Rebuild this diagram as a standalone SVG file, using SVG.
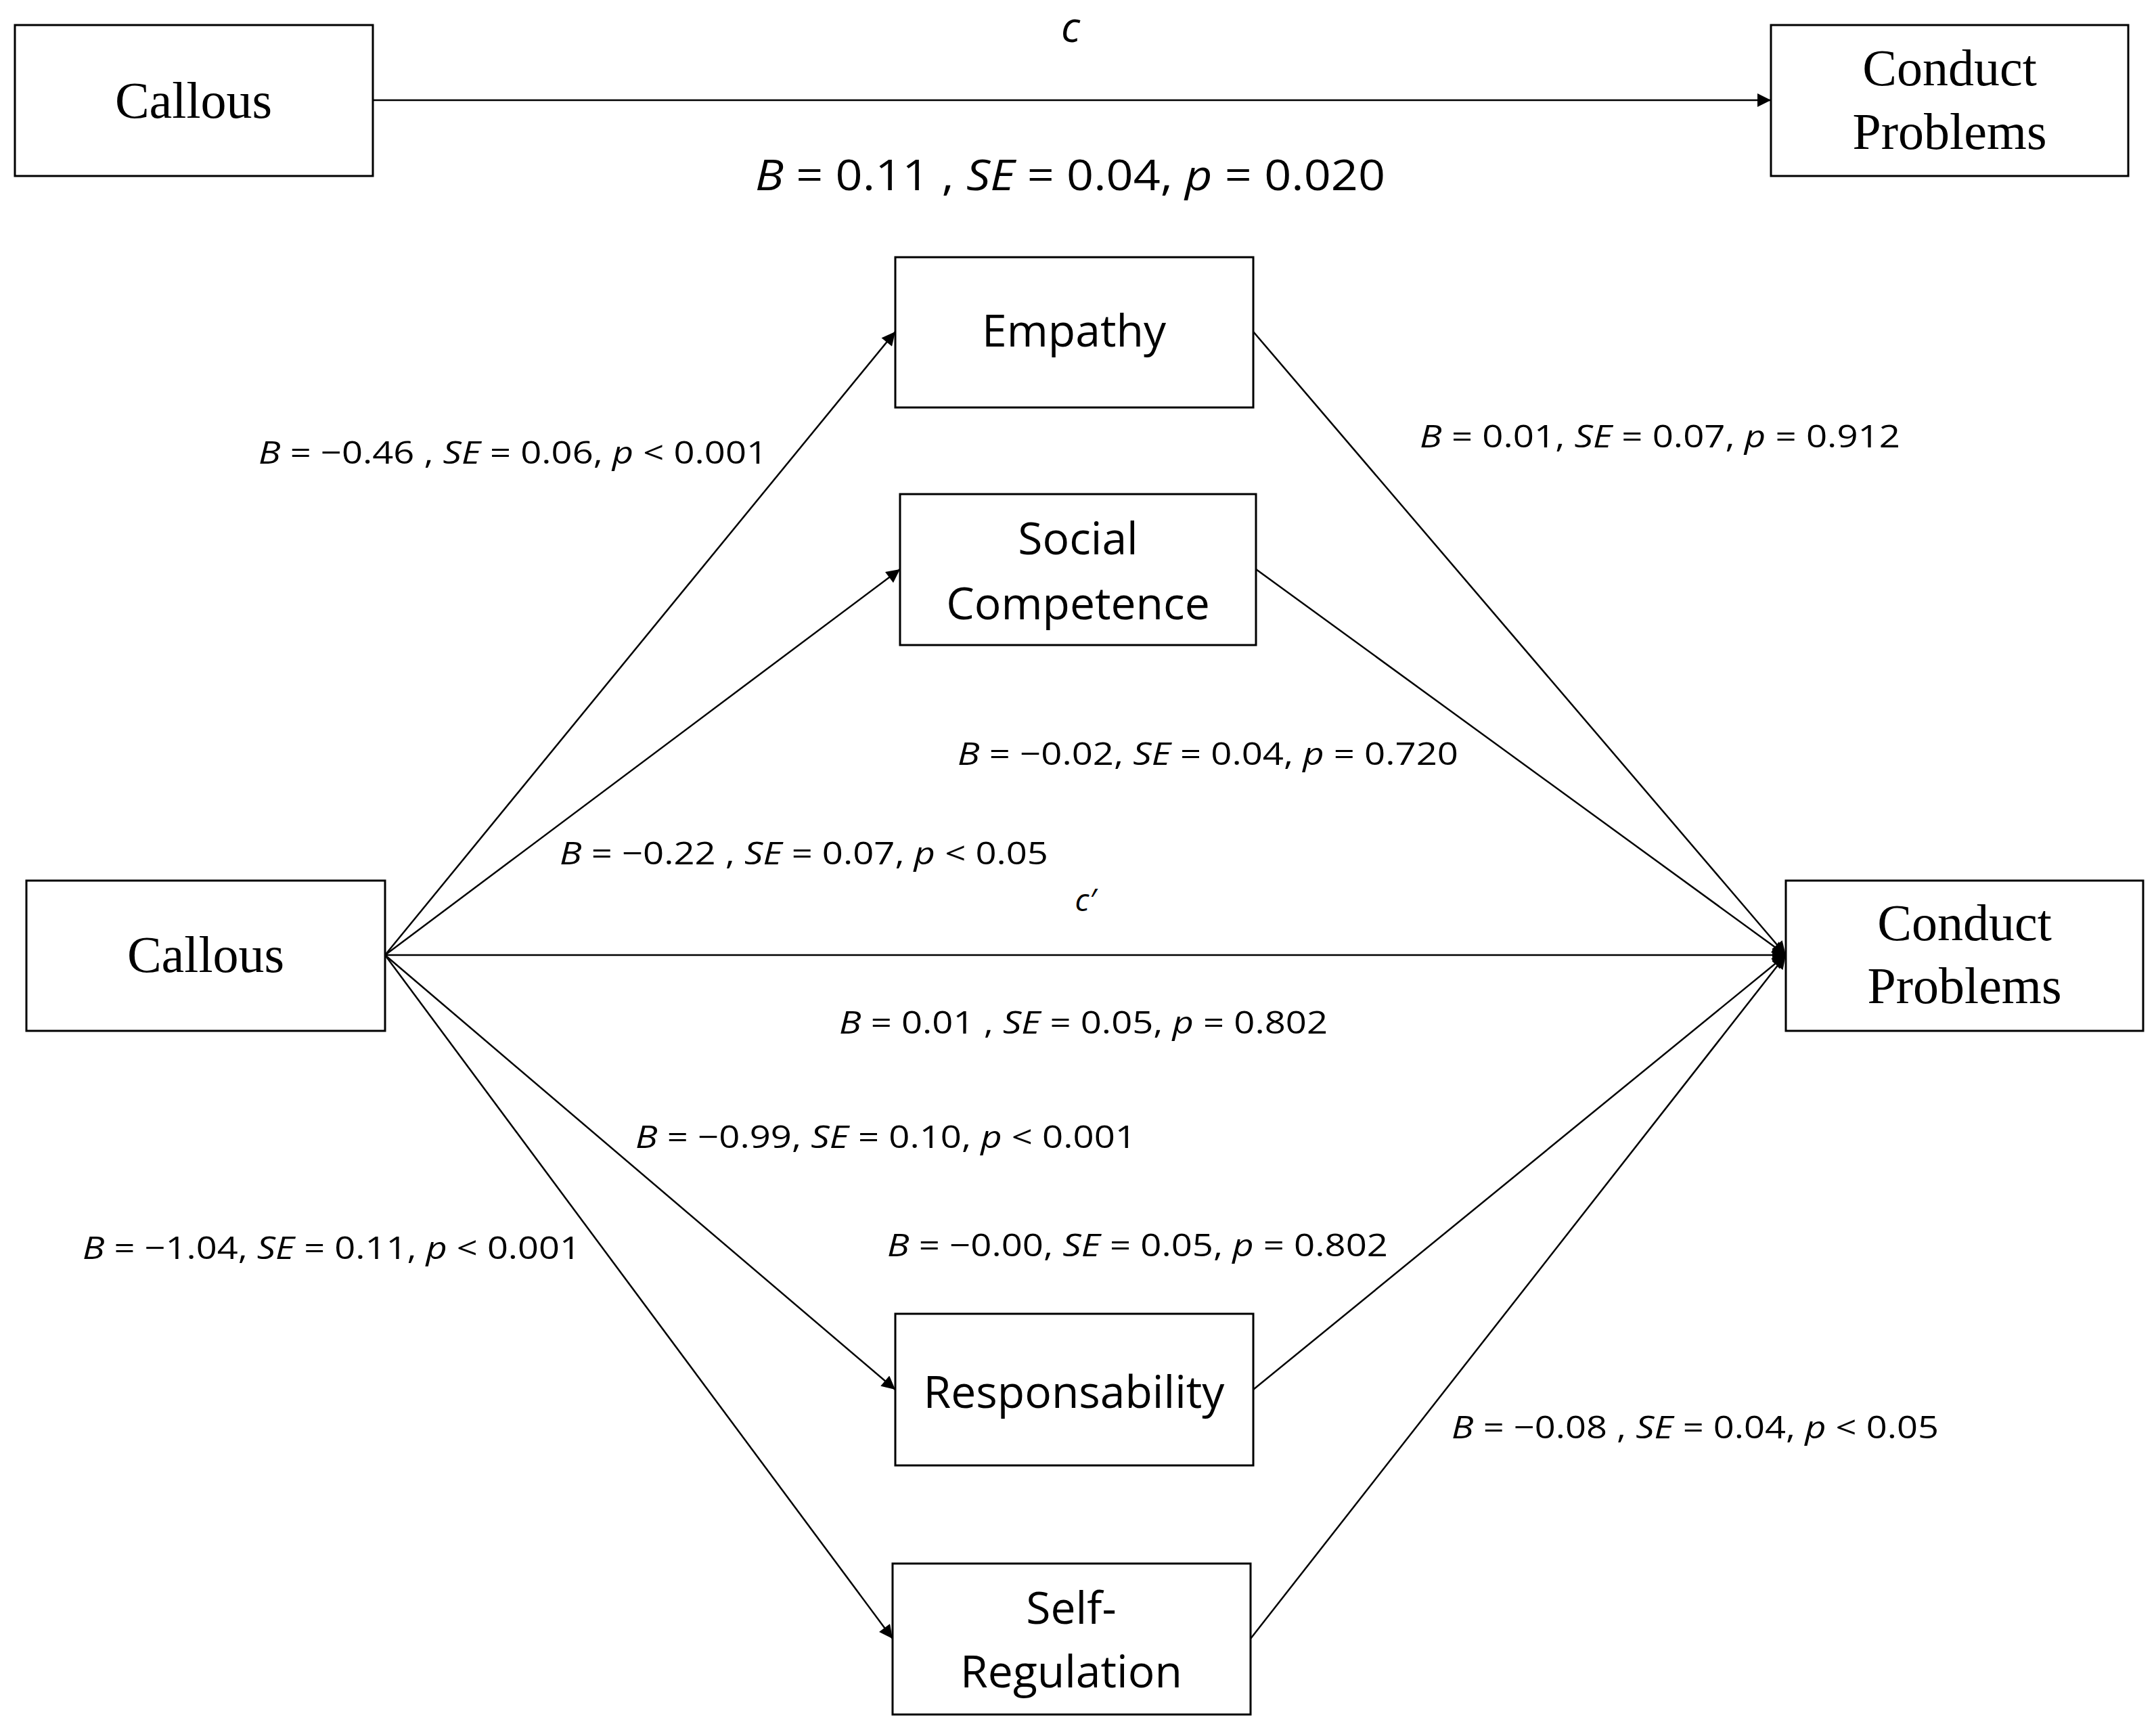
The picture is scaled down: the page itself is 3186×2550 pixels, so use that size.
<svg xmlns="http://www.w3.org/2000/svg" width="3186" height="2550" viewBox="0 0 3186 2550">
<style>
.box{fill:#fff;stroke:#000;stroke-width:3}
.serif{font-family:"Liberation Serif",serif;font-size:76px;text-anchor:middle}
.sans{font-family:"Open Sans","Noto Sans",sans-serif;font-size:66px;text-anchor:middle}
.st{font-family:"Open Sans","Noto Sans",sans-serif;font-size:46px}
.big{font-family:"Open Sans","Noto Sans",sans-serif;font-size:62px}
.i{font-style:italic}
.ln{stroke:#000;stroke-width:2.5;fill:none}
</style>
<defs>
<marker id="ah" viewBox="0 0 10 10" refX="10" refY="5" markerWidth="24" markerHeight="20" markerUnits="userSpaceOnUse" orient="auto"><path d="M0,0L10,5L0,10z" fill="#000"/></marker>
</defs>
<rect width="3186" height="2550" fill="#fff"/>
<g id="connectors">
<line class="ln" x1="551" y1="148" x2="2617" y2="148" stroke-width="3.5" marker-end="url(#ah)"/>
<line class="ln" x1="569" y1="1411" x2="1323" y2="490" marker-end="url(#ah)"/>
<line class="ln" x1="569" y1="1411" x2="1330" y2="841" marker-end="url(#ah)"/>
<line class="ln" x1="569" y1="1411" x2="1323" y2="2053" marker-end="url(#ah)"/>
<line class="ln" x1="569" y1="1411" x2="1319" y2="2421" marker-end="url(#ah)"/>
<line class="ln" x1="569" y1="1411" x2="2639" y2="1411" stroke-width="3.5" marker-end="url(#ah)"/>
<line class="ln" x1="1852" y1="490" x2="2639" y2="1411" marker-end="url(#ah)"/>
<line class="ln" x1="1856" y1="841" x2="2639" y2="1411" marker-end="url(#ah)"/>
<line class="ln" x1="1852" y1="2053" x2="2639" y2="1411" marker-end="url(#ah)"/>
<line class="ln" x1="1848" y1="2421" x2="2639" y2="1411" marker-end="url(#ah)"/>
</g>
<g id="callous-top"><rect class="box" x="22" y="37" width="529" height="223"/><text class="serif" x="286" y="174">Callous</text></g>
<g id="conduct-top"><rect class="box" x="2617" y="37" width="528" height="223"/><text class="serif" x="2881" y="126">Conduct</text><text class="serif" x="2881" y="220">Problems</text></g>
<g id="empathy"><rect class="box" x="1323" y="380" width="529" height="222"/><text class="sans" x="1587" y="512">Empathy</text></g>
<g id="social"><rect class="box" x="1330" y="730" width="526" height="223"/><text class="sans" x="1593" y="819">Social</text><text class="sans" x="1593" y="915">Competence</text></g>
<g id="callous"><rect class="box" x="39" y="1301" width="530" height="222"/><text class="serif" x="304" y="1436">Callous</text></g>
<g id="conduct"><rect class="box" x="2639" y="1301" width="528" height="222"/><text class="serif" x="2903" y="1389">Conduct</text><text class="serif" x="2903" y="1482">Problems</text></g>
<g id="responsability"><rect class="box" x="1323" y="1941" width="529" height="224"/><text class="sans" x="1587" y="2080">Responsability</text></g>
<g id="selfreg"><rect class="box" x="1319" y="2310" width="529" height="223"/><text class="sans" x="1583" y="2399">Self-</text><text class="sans" x="1583" y="2493">Regulation</text></g>
<g id="labels">
<text class="big i" x="1582" y="62" text-anchor="middle">c</text>
<text class="big" x="1116" y="281" textLength="931" lengthAdjust="spacingAndGlyphs"><tspan class="i">B</tspan> = 0.11 , <tspan class="i">SE</tspan> = 0.04, <tspan class="i">p</tspan> = 0.020</text>
<text class="st" x="382" y="685" textLength="752" lengthAdjust="spacingAndGlyphs"><tspan class="i">B</tspan> = −0.46 , <tspan class="i">SE</tspan> = 0.06, <tspan class="i">p</tspan> &lt; 0.001</text>
<text class="st" x="2098" y="661" textLength="710" lengthAdjust="spacingAndGlyphs"><tspan class="i">B</tspan> = 0.01, <tspan class="i">SE</tspan> = 0.07, <tspan class="i">p</tspan> = 0.912</text>
<text class="st" x="1415" y="1130" textLength="740" lengthAdjust="spacingAndGlyphs"><tspan class="i">B</tspan> = −0.02, <tspan class="i">SE</tspan> = 0.04, <tspan class="i">p</tspan> = 0.720</text>
<text class="st" x="827" y="1277" textLength="722" lengthAdjust="spacingAndGlyphs"><tspan class="i">B</tspan> = −0.22 , <tspan class="i">SE</tspan> = 0.07, <tspan class="i">p</tspan> &lt; 0.05</text>
<text class="st i" x="1604" y="1346" text-anchor="middle">c′</text>
<text class="st" x="1240" y="1527" textLength="722" lengthAdjust="spacingAndGlyphs"><tspan class="i">B</tspan> = 0.01 , <tspan class="i">SE</tspan> = 0.05, <tspan class="i">p</tspan> = 0.802</text>
<text class="st" x="939" y="1696" textLength="740" lengthAdjust="spacingAndGlyphs"><tspan class="i">B</tspan> = −0.99, <tspan class="i">SE</tspan> = 0.10, <tspan class="i">p</tspan> &lt; 0.001</text>
<text class="st" x="122" y="1860" textLength="736" lengthAdjust="spacingAndGlyphs"><tspan class="i">B</tspan> = −1.04, <tspan class="i">SE</tspan> = 0.11, <tspan class="i">p</tspan> &lt; 0.001</text>
<text class="st" x="1311" y="1856" textLength="740" lengthAdjust="spacingAndGlyphs"><tspan class="i">B</tspan> = −0.00, <tspan class="i">SE</tspan> = 0.05, <tspan class="i">p</tspan> = 0.802</text>
<text class="st" x="2145" y="2125" textLength="720" lengthAdjust="spacingAndGlyphs"><tspan class="i">B</tspan> = −0.08 , <tspan class="i">SE</tspan> = 0.04, <tspan class="i">p</tspan> &lt; 0.05</text>
</g>
</svg>
